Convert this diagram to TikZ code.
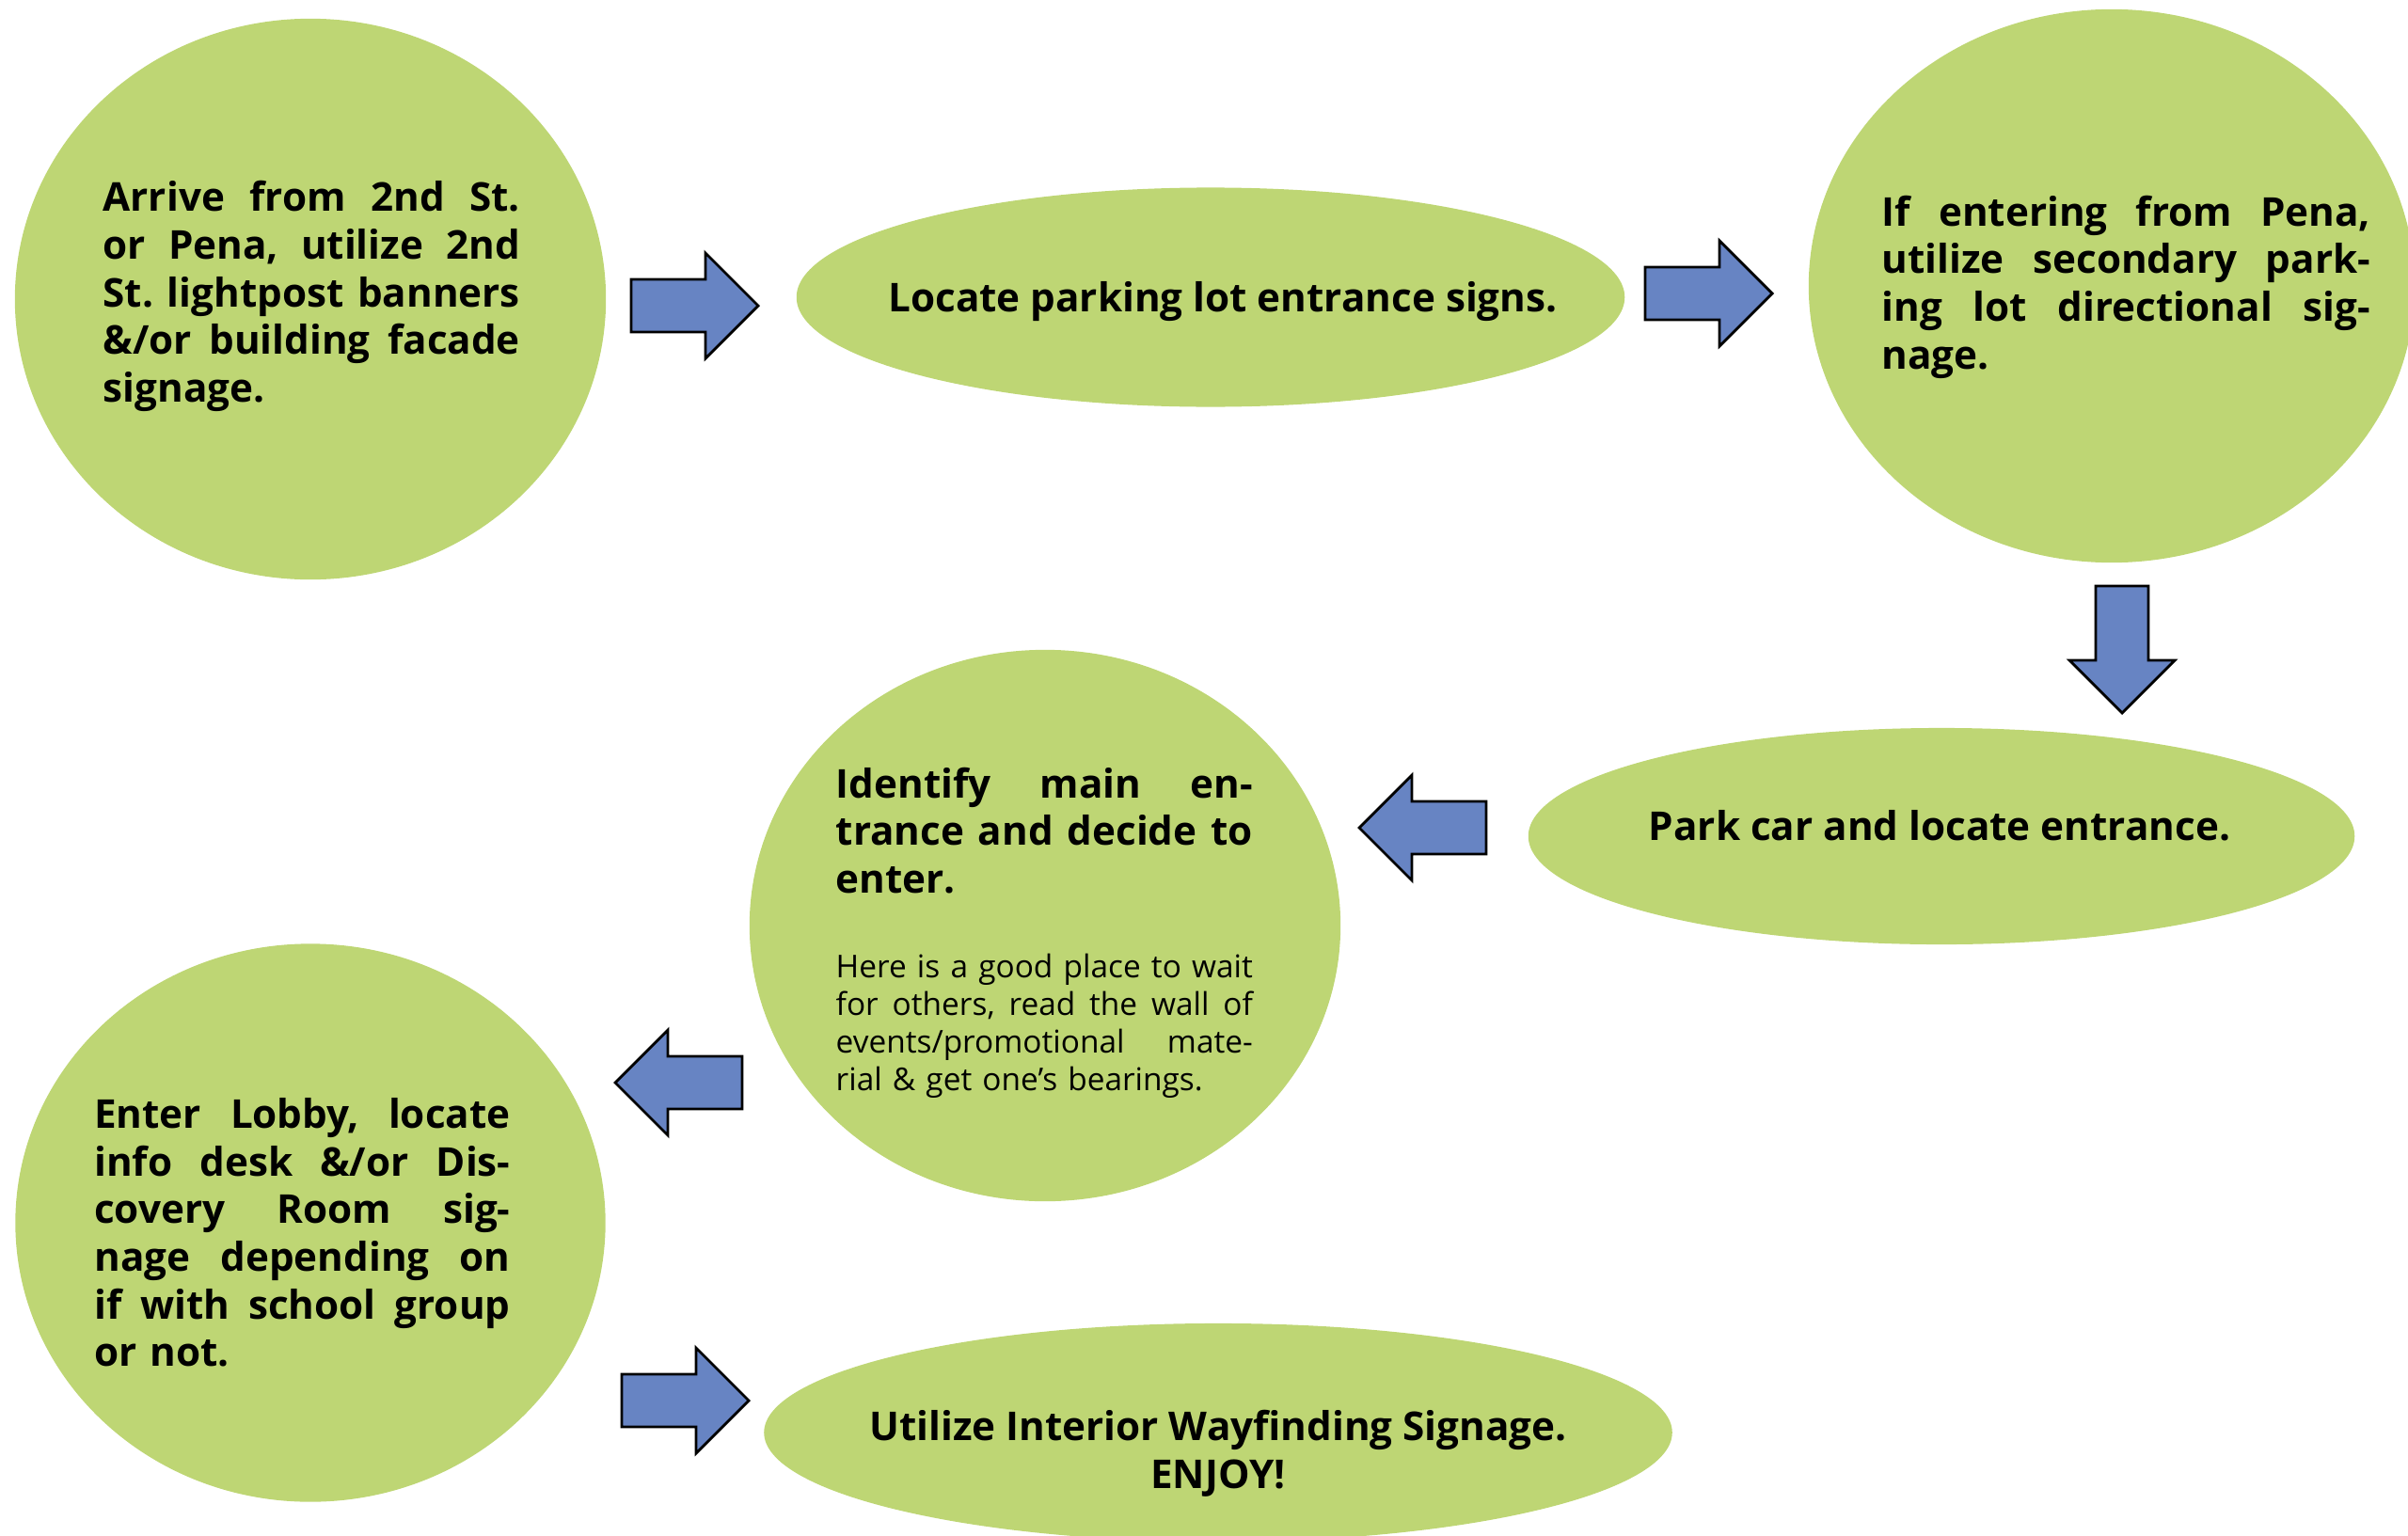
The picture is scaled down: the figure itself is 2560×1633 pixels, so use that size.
\documentclass[tikz,border=0pt]{standalone}
\usepackage{fontspec}
\setmainfont{Open Sans}
\usetikzlibrary{shapes.geometric}
\setlength{\parindent}{0pt}
\frenchspacing
\definecolor{bgreen}{RGB}{190,214,116}
\definecolor{bblue}{RGB}{103,132,195}
\newlength{\jw}
\newcommand{\jline}[1]{\makebox[\jw][s]{\spaceskip=0pt\xspaceskip=0pt\strut #1}\\}
\tikzset{
  x=0.01cm, y=-0.01cm,
  bubble/.style={ellipse, fill=bgreen, draw=none, inner sep=0pt},
  btext/.style={anchor=north west, inner sep=0pt, align=left, text width=#1,
    execute at begin node={\setlength{\jw}{#1}},
    font=\fontsize{12}{14.4}\selectfont\bfseries},
  stext/.style={anchor=north west, inner sep=0pt, align=left, text width=#1,
    execute at begin node={\setlength{\jw}{#1}},
    font=\fontsize{9.5}{11.4}\selectfont},
  ctext/.style={align=center, inner sep=0pt, font=\fontsize{12}{14.4}\selectfont\bfseries},
  blockarrow/.style={fill=bblue, draw=black, line width=0.8pt, line join=miter},
  rarrow/.pic={\path[blockarrow] (0,-28) -- (79,-28) -- (79,-56) -- (135,0)
     -- (79,56) -- (79,28) -- (0,28) -- cycle;}
}
\begin{document}
\begin{tikzpicture}
\useasboundingbox (0,0) rectangle (2560,1633);
\clip (0,0) rectangle (2560,1633);
% bubbles
\node[bubble, minimum width=6.28cm, minimum height=5.96cm] (e1) at (330,318) {};
\node[bubble, minimum width=8.80cm, minimum height=2.33cm] (e2) at (1287,316) {};
\node[bubble, minimum width=6.44cm, minimum height=5.88cm] (e3) at (2245,304) {};
\node[bubble, minimum width=8.78cm, minimum height=2.30cm] (e4) at (2064,889) {};
\node[bubble, minimum width=6.28cm, minimum height=5.86cm] (e5) at (1111,984) {};
\node[bubble, minimum width=6.27cm, minimum height=5.93cm] (e6) at (330,1300) {};
\node[bubble, minimum width=9.65cm, minimum height=2.32cm] (e7) at (1295,1523) {};
% texts
\node[btext=4.43cm] (t1) at (109,188.6) {%
\jline{Arrive from 2nd St.}
\jline{or Pena, utilize 2nd}
\jline{St. lightpost banners}
\jline{\&/or building facade}
\strut signage.};
\node[ctext] (t2) at (1300,321) {Locate parking lot entrance signs.};
\node[btext=5.19cm] (t3) at (2000,204.2) {%
\jline{If entering from Pena,}
\jline{utilize secondary park-}
\jline{ing lot directional sig-}
\strut nage.};
\node[ctext] (t4) at (2062,878) {Park car and locate entrance.};
\node[btext=4.43cm] (t5) at (888,812.2) {%
\jline{Identify main en-}
\jline{trance and decide to}
\strut enter.};
\node[stext=4.43cm] (t5b) at (888,1010.7) {%
\jline{Here is a good place to wait}
\jline{for others, read the wall of}
\jline{events/promotional mate-}
\strut rial \& get one’s bearings.};
\node[btext=4.42cm] (t6) at (99.6,1163.3) {%
\jline{Enter Lobby, locate}
\jline{info desk \&/or Dis-}
\jline{covery Room sig-}
\jline{nage depending on}
\jline{if with school group}
\strut or not.};
\node[ctext] (t7) at (1295,1545.5) {Utilize Interior Wayfinding Signage.\\ENJOY!};
% block arrows
\pic (a1) at (671,325) {rarrow};
\pic (a2) at (1749,312) {rarrow};
\pic[rotate=-90] (a3) at (2256,623) {rarrow};
\pic[xscale=-1] (a4) at (1580,880) {rarrow};
\pic[xscale=-1] (a5) at (789,1151) {rarrow};
\pic (a6) at (661,1489) {rarrow};
\end{tikzpicture}
\end{document}
